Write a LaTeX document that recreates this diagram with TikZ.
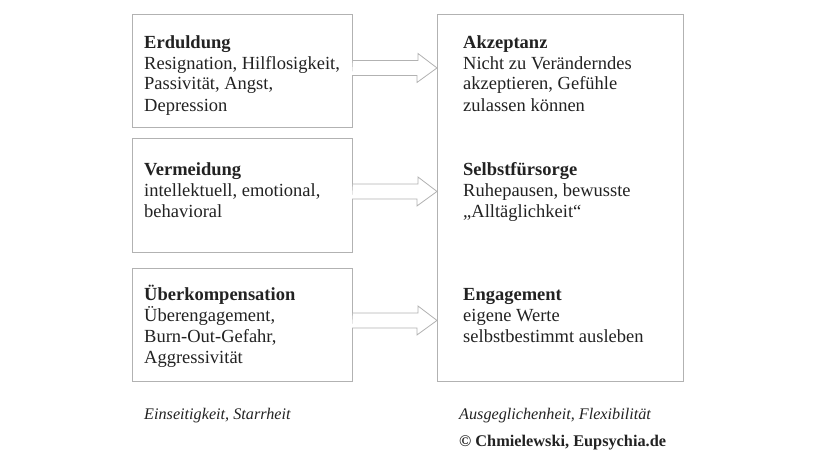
\documentclass[tikz,border=0pt]{standalone}
\usepackage{fontspec}
\setmainfont{Liberation Serif}
\usetikzlibrary{calc}
\definecolor{boxline}{RGB}{178,178,178}
\definecolor{txt}{RGB}{34,34,34}
\tikzset{
  panel/.style={draw=boxline, line width=0.9pt, inner sep=0pt},
  boxtext/.style={anchor=base west, align=left, inner sep=0pt, text=txt,
    font=\fontsize{18.5}{21}\selectfont},
  foot/.style={anchor=base west, inner sep=0pt, text=txt,
    font=\fontsize{16.2}{19}\selectfont\itshape},
  blockarrow/.style={draw=boxline, line width=0.8pt, fill=white, line join=miter}
}
\begin{document}
\begin{tikzpicture}[x=1pt,y=-1pt]
\useasboundingbox (0,0) rectangle (820,460);
% boxes
\node[panel, minimum width=220pt, minimum height=113pt, anchor=north west] (b1) at (132,14) {};
\node[panel, minimum width=220pt, minimum height=114pt, anchor=north west] (b2) at (132,138) {};
\node[panel, minimum width=220pt, minimum height=113pt, anchor=north west] (b3) at (132,268) {};
\node[panel, minimum width=246pt, minimum height=367pt, anchor=north west] (r) at (437,14) {};
% arrows
\foreach \b/\dy in {b1/-3, b2/-4, b3/-4.5}{
  \coordinate (s) at ($(\b.east)+(0,\dy)$);
  \draw[blockarrow] ($(s)+(0,-7.5)$) -- ++(65,0) -- ++(0,-7)
    -- (s -| r.west) -- ++(-20,14.5) -- ++(0,-7) -- ++(-65,0);
}
% texts (base anchor = baseline of last line)
\node[boxtext] (t1) at (144,111) {\textbf{Erduldung}\\Resignation, Hilflosigkeit,\\Passivität, Angst,\\Depression};
\node[boxtext] (t2) at (144,217) {\textbf{Vermeidung}\\intellektuell, emotional,\\behavioral};
\node[boxtext] (t3) at (144,363) {\textbf{Überkompensation}\\Überengagement,\\Burn-Out-Gefahr,\\Aggressivität};
\node[boxtext] (r1) at (463,111) {\textbf{Akzeptanz}\\Nicht zu Veränderndes\\akzeptieren, Gefühle\\zulassen können};
\node[boxtext] (r2) at (463,217) {\textbf{Selbstfürsorge}\\Ruhepausen, bewusste\\„Alltäglichkeit“};
\node[boxtext] (r3) at (463,342) {\textbf{Engagement}\\eigene Werte\\selbstbestimmt ausleben};
\node[foot] (f1) at (144,419) {Einseitigkeit, Starrheit};
\node[foot] (f2) at (459,419) {Ausgeglichenheit, Flexibilität};
\node[anchor=base west, inner sep=0pt, text=txt, font=\fontsize{16.3}{19}\selectfont\bfseries] (c) at (459,446) {© Chmielewski, Eupsychia.de};
\end{tikzpicture}
\end{document}
